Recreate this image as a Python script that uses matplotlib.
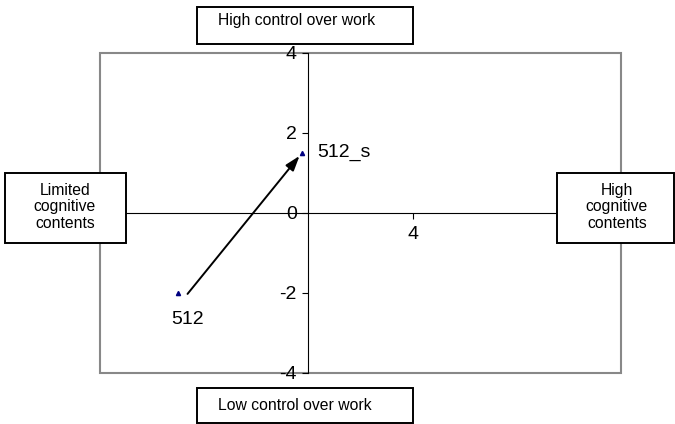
import matplotlib
matplotlib.use("Agg")
import matplotlib.pyplot as plt
from matplotlib.patches import Rectangle

plt.rcParams['font.family'] = ['Liberation Sans', 'DejaVu Sans']
plt.rcParams['axes.unicode_minus'] = False

# data
names = ['512', '512_s']
xs = [-5.0, -0.25]
ys = [-2.0, 1.5]
xticks = [-8, 4]
yticks = [-4, -2, 0, 2, 4]

W, H = 675, 424
fig = plt.figure(figsize=(W / 100, H / 100), dpi=100)

def fx(px):
    return px / W

def fy(py):
    return 1 - py / H

# plot area in pixels: x 100..621, y 52.7..372.7
ax = fig.add_axes([fx(100), fy(372.7), fx(521), 320 / H])
ax.set_xlim(-8, 12)
ax.set_ylim(-4, 4)

ax.spines['left'].set_position(('data', 0))
ax.spines['bottom'].set_position(('data', 0))
ax.spines['top'].set_visible(False)
ax.spines['right'].set_visible(False)
for s in ('left', 'bottom'):
    ax.spines[s].set_linewidth(0.8)
    ax.spines[s].set_color('black')

ax.set_xticks(xticks)
ax.set_yticks(yticks)
ax.tick_params(axis='both', direction='out', length=4.3, width=0.8, labelsize=14)
ax.tick_params(axis='x', pad=5.5)
ax.tick_params(axis='y', pad=4)

# grey plot-area frame
ax.add_patch(Rectangle((0, 0), 1, 1, transform=ax.transAxes, fill=False,
                       edgecolor='#888888', lw=1.5, clip_on=False, zorder=0))

# points
ax.plot(xs, ys, linestyle='none', marker='^', markersize=3, color='#000080', zorder=3)

# arrow from 512 to 512_s
ax.annotate('', xy=(-0.34, 1.42), xytext=(-4.64, -2.03),
            arrowprops=dict(arrowstyle='-|>,head_length=0.9,head_width=0.3',
                            color='black', lw=1.4, shrinkA=0, shrinkB=0))

# point labels
ax.annotate(names[0], (xs[0], ys[0]), xytext=(7, -19), textcoords='offset points',
            ha='center', va='center', fontsize=14)
ax.annotate(names[1], (xs[1], ys[1]), xytext=(11, 0), textcoords='offset points',
            ha='left', va='center', fontsize=14)


def box(x0, y0, x1, y1, text, tx, ty, ha='center', va='center'):
    fig.add_artist(Rectangle((fx(x0), fy(y1)), fx(x1 - x0), (y1 - y0) / H,
                             transform=fig.transFigure, facecolor='white',
                             edgecolor='black', lw=1.4, zorder=5))
    fig.text(fx(tx), fy(ty), text, ha=ha, va=va, fontsize=11.3, zorder=6,
             linespacing=1.12)


box(197, 7, 413, 44, 'High control over work', 218, 21, ha='left')
box(197, 388, 413, 423, 'Low control over work', 218, 405, ha='left')
box(5, 173, 126, 243, 'Limited\ncognitive\ncontents', 65, 207)
box(557, 173, 674, 243, 'High\ncognitive\ncontents', 617, 207)

fig.savefig('out.png', dpi=100)
